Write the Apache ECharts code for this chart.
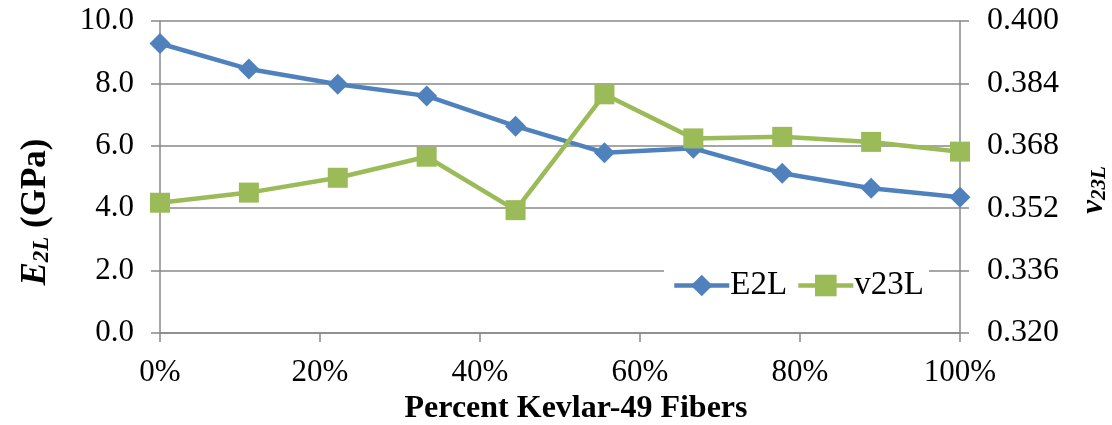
<!DOCTYPE html>
<html>
<head>
<meta charset="utf-8">
<script src="https://cdn.jsdelivr.net/npm/echarts@6/dist/echarts.min.js"></script>
<style>
html,body{margin:0;padding:0;background:#fff;}
#chart{width:1112px;height:425px;}
</style>
</head>
<body>
<div id="chart"></div>
<script>
// Fraction of Kevlar-49 fibers (0 .. 1), ten evenly spaced points
var percentKevlar = [0, 1/9, 2/9, 3/9, 4/9, 5/9, 6/9, 7/9, 8/9, 1];
var e2lValues = [9.28, 8.46, 7.97, 7.60, 6.63, 5.78, 5.92, 5.12, 4.64, 4.35];
var v23lValues = [0.3534, 0.3560, 0.3598, 0.3652, 0.3515, 0.3812, 0.3699, 0.3703, 0.3690, 0.3665];
var seriesNames = ['E2L', 'v23L'];

var FONT = '"Liberation Serif", "Times New Roman", serif';
var GRID_COLOR = '#898989';

function pairs(xs, ys) { return xs.map(function (x, i) { return [x, ys[i]]; }); }

var chart = echarts.init(document.getElementById('chart'));
chart.setOption({
  animation: false,
  backgroundColor: '#fff',
  textStyle: { fontFamily: FONT },
  grid: { left: 160, right: 152, top: 21, bottom: 92, containLabel: false, outerBoundsMode: 'none' },
  legend: {
    data: seriesNames,
    left: 664,
    top: 267,
    padding: [2, 5, 2, 8],
    backgroundColor: '#fff',
    itemWidth: 55,
    itemHeight: 27,
    itemGap: 9,
    lineStyle: { width: 4.5 },
    textStyle: { fontFamily: FONT, fontSize: 33, color: '#000', padding: [0, 0, 0, -4] },
    z: 10
  },
  xAxis: {
    type: 'value',
    min: 0, max: 1, interval: 0.2,
    name: 'Percent Kevlar-49 Fibers',
    nameLocation: 'middle',
    nameGap: 59,
    nameTextStyle: { fontFamily: FONT, fontSize: 32, fontWeight: 'bold', color: '#000', padding: [0, 0, 0, 32] },
    axisLine: { show: true, lineStyle: { color: GRID_COLOR, width: 1.5 } },
    axisTick: { show: true, inside: false, length: 9, lineStyle: { color: GRID_COLOR, width: 1.5 } },
    splitLine: { show: false },
    axisLabel: {
      margin: 24,
      fontFamily: FONT, fontSize: 31, color: '#000',
      formatter: function (v) { return Math.round(v * 100) + '%'; }
    }
  },
  yAxis: [
    {
      type: 'value',
      min: 0, max: 10, interval: 2,
      name: '{e|E}{sub|2L}{b| (GPa)}',
      nameLocation: 'middle',
      nameRotate: 90,
      nameGap: 106,
      nameTextStyle: {
        color: '#000',
        padding: [0, 70, 0, 0],
        rich: {
          e: { fontFamily: FONT, fontSize: 35, fontWeight: 'bold', fontStyle: 'italic', color: '#000' },
          sub: { fontFamily: FONT, fontSize: 23, fontWeight: 'bold', fontStyle: 'italic', color: '#000', padding: [13, 0, 0, 0] },
          b: { fontFamily: FONT, fontSize: 35, fontWeight: 'bold', color: '#000' }
        }
      },
      axisLine: { show: true, lineStyle: { color: GRID_COLOR, width: 1.5 } },
      axisTick: { show: true, inside: false, length: 9, lineStyle: { color: GRID_COLOR, width: 1.5 } },
      splitLine: { show: true, lineStyle: { color: GRID_COLOR, width: 1.5 } },
      axisLabel: {
        margin: 26,
        fontFamily: FONT, fontSize: 31, color: '#000',
        formatter: function (v) { return v.toFixed(1); }
      }
    },
    {
      type: 'value',
      min: 0.32, max: 0.40, interval: 0.016,
      position: 'right',
      name: '{v|v}{sub|23L}',
      nameLocation: 'middle',
      nameRotate: 90,
      nameGap: 117,
      nameTextStyle: {
        color: '#000',
        padding: [0, 26, 0, 0],
        rich: {
          v: { fontFamily: FONT, fontSize: 31, fontWeight: 'bold', fontStyle: 'italic', color: '#000' },
          sub: { fontFamily: FONT, fontSize: 21, fontWeight: 'bold', fontStyle: 'italic', color: '#000', padding: [12, 0, 0, 0] }
        }
      },
      axisLine: { show: true, lineStyle: { color: GRID_COLOR, width: 1.5 } },
      axisTick: { show: true, inside: false, length: 9, lineStyle: { color: GRID_COLOR, width: 1.5 } },
      splitLine: { show: false },
      axisLabel: {
        margin: 27,
        fontFamily: FONT, fontSize: 32, color: '#000',
        formatter: function (v) { return v.toFixed(3); }
      }
    }
  ],
  series: [
    {
      name: seriesNames[0],
      type: 'line',
      yAxisIndex: 0,
      data: pairs(percentKevlar, e2lValues),
      symbol: 'diamond',
      symbolSize: 21,
      itemStyle: { color: '#4F81BD' },
      lineStyle: { color: '#4F81BD', width: 4.5 },
      z: 3
    },
    {
      name: seriesNames[1],
      type: 'line',
      yAxisIndex: 1,
      data: pairs(percentKevlar, v23lValues),
      symbol: 'rect',
      symbolSize: 20,
      itemStyle: { color: '#9BBB59' },
      lineStyle: { color: '#9BBB59', width: 4.5 },
      z: 4
    }
  ]
});
</script>
</body>
</html>
